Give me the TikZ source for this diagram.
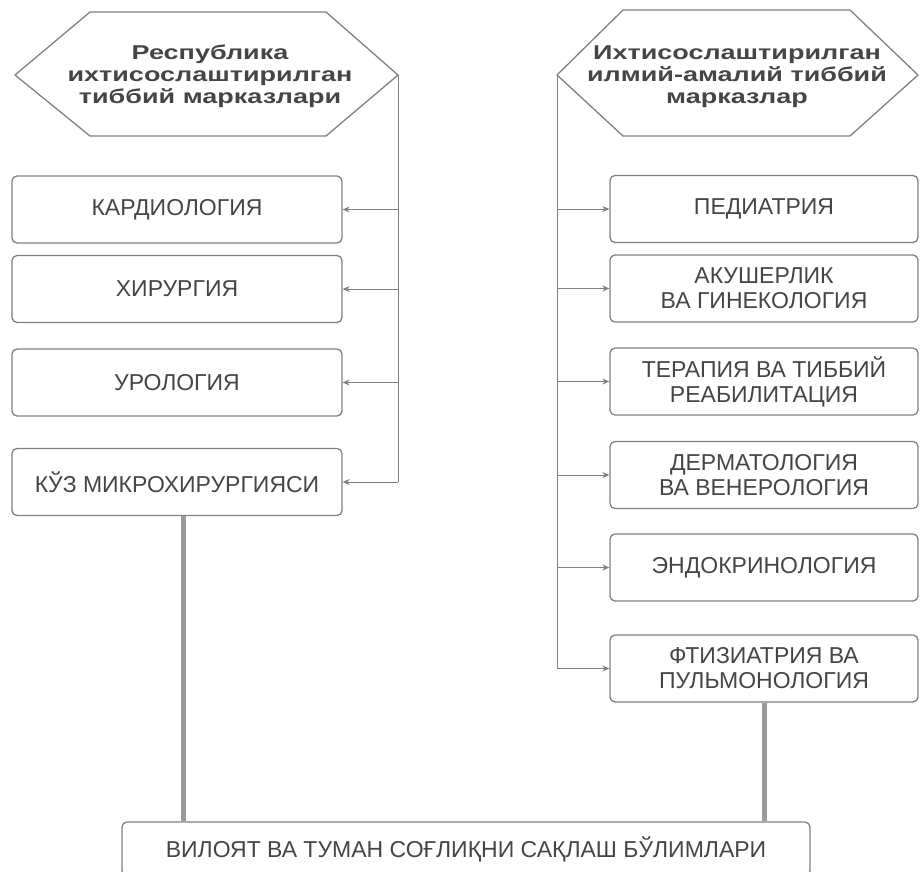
\documentclass[tikz,border=0pt]{standalone}
\usepackage{fontspec}
\setmainfont{Liberation Sans}
\newfontfamily\hdrfont[FakeStretch=1.35]{Liberation Sans}
\usepackage{tikz}
\usetikzlibrary{arrows.meta}

\definecolor{ink}{HTML}{454545}
\definecolor{rim}{HTML}{808080}
\definecolor{feed}{HTML}{9A9A9A}

\begin{document}
\begin{tikzpicture}[x=1pt, y=-1pt, >={Stealth[length=7pt,width=6pt]}, semithick]
  \tikzstyle{box}=[draw=rim, line width=1.3pt, rounded corners=5pt, text=ink, align=center,
                   font=\fontsize{23}{25}\selectfont, minimum height=67pt]
  \tikzstyle{lbox}=[box, minimum width=330pt]
  \tikzstyle{rbox}=[box, minimum width=308pt]
  \tikzstyle{hdr}=[text=ink, align=center, font=\hdrfont\bfseries\fontsize{20}{22}\selectfont]
  \tikzstyle{hex}=[draw=rim, line width=1.3pt, line join=round]
  \tikzstyle{link}=[draw=rim, line width=1pt]
  \tikzstyle{feedline}=[draw=feed, line width=5pt]

  \clip (0,0) rectangle (920,871);

  % headers
  \node[hdr] (hA) at (210,76) {Республика\\ихтисослаштирилган\\тиббий марказлари};
  \coordinate (tA) at (398,75);
  \draw[hex] (15,75) -- (90,12) -- (326,12) -- (tA) -- (326,136) -- (90,136) -- cycle;

  \node[hdr] (hB) at (737,76.5) {Ихтисослаштирилган\\илмий-амалий тиббий\\марказлар};
  \coordinate (tB) at (557,75);
  \draw[hex] (tB) -- (623,10) -- (850,10) -- (918,75) -- (850,136) -- (623,136) -- cycle;

  % left column
  \node[lbox] (kard) at (177,209.5)                        {КАРДИОЛОГИЯ};
  \node[lbox] (khir) [below of=kard, node distance=79.5pt] {ХИРУРГИЯ};
  \node[lbox] (urol) [below of=khir, node distance=93.5pt] {УРОЛОГИЯ};
  \node[lbox] (kuz)  [below of=urol, node distance=99.5pt] {КЎЗ МИКРОХИРУРГИЯСИ};

  % right column
  \node[rbox] (ped)  at (764,209)                          {ПЕДИАТРИЯ};
  \node[rbox] (aku)  [below of=ped, node distance=79.5pt]  {АКУШЕРЛИК\\ВА ГИНЕКОЛОГИЯ};
  \node[rbox] (ter)  [below of=aku, node distance=93pt]    {ТЕРАПИЯ ВА ТИББИЙ\\РЕАБИЛИТАЦИЯ};
  \node[rbox] (der)  [below of=ter, node distance=93.5pt]  {ДЕРМАТОЛОГИЯ\\ВА ВЕНЕРОЛОГИЯ};
  \node[rbox] (endo) [below of=der, node distance=92.5pt]  {ЭНДОКРИНОЛОГИЯ};
  \node[rbox] (fti)  [below of=endo, node distance=101pt]  {ФТИЗИАТРИЯ ВА\\ПУЛЬМОНОЛОГИЯ};

  % bottom
  \node[box, minimum width=688pt, minimum height=54pt] (bot) at (466,849)
        {ВИЛОЯТ ВА ТУМАН СОҒЛИҚНИ САҚЛАШ БЎЛИМЛАРИ};

  % spines
  \draw[link] (tA) -- (tA |- kuz.east);
  \draw[link] (tB) -- (tB |- fti.west);

  \path[->, color=rim, line width=1pt]
        (tA |- kard.east) edge (kard.east)
        (tA |- khir.east) edge (khir.east)
        (tA |- urol.east) edge (urol.east)
        (tA |- kuz.east)  edge (kuz.east);
  \path[->, color=rim, line width=1pt]
        (tB |- ped.west)  edge (ped.west)
        (tB |- aku.west)  edge (aku.west)
        (tB |- ter.west)  edge (ter.west)
        (tB |- der.west)  edge (der.west)
        (tB |- endo.west) edge (endo.west)
        (tB |- fti.west)  edge (fti.west);

  % to the regions
  \draw[feedline] ([xshift=6pt]kuz.south) -- ([xshift=6pt]kuz.south |- bot.north);
  \draw[feedline] (fti.south) -- (fti.south |- bot.north);
\end{tikzpicture}
\end{document}
